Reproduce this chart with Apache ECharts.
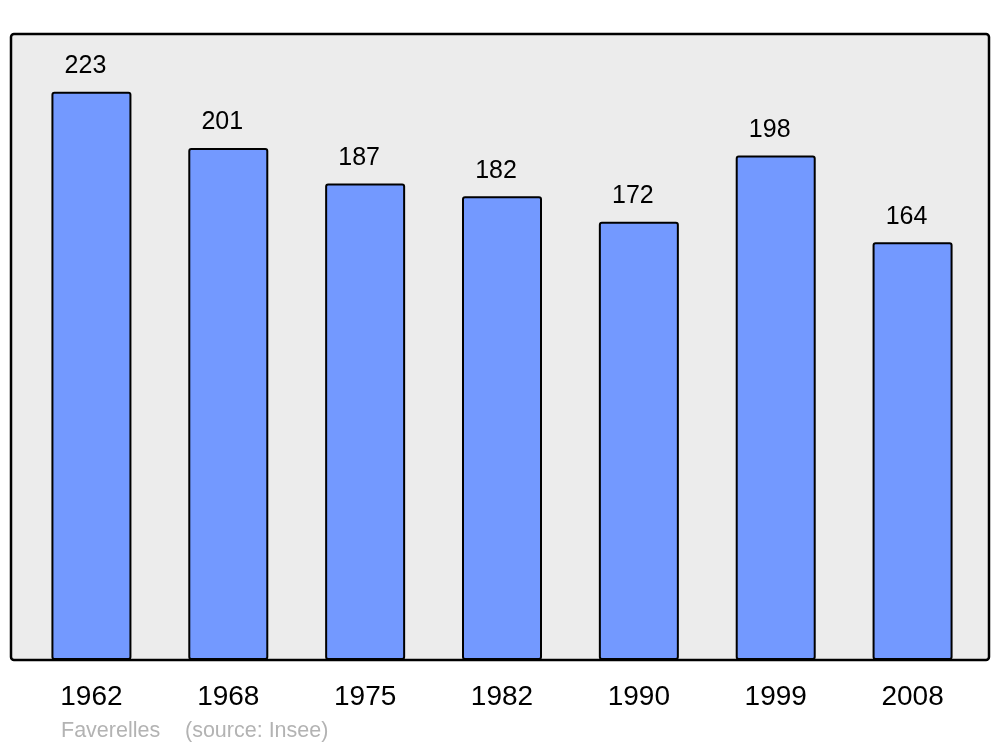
<!DOCTYPE html>
<html>
<head>
<meta charset="utf-8">
<script src="https://cdn.jsdelivr.net/npm/echarts@6/dist/echarts.min.js"></script>
<style>
html,body{margin:0;padding:0;background:#fff;}
#chart{width:1000px;height:747px;}
</style>
</head>
<body>
<div id="chart"></div>
<script>
const years = ['1962', '1968', '1975', '1982', '1990', '1999', '2008'];
const population = [223, 201, 187, 182, 172, 198, 164];
const placeName = 'Faverelles';
const sourceText = '(source: Insee)';

const chart = echarts.init(document.getElementById('chart'), null, {renderer: 'canvas'});
chart.setOption({
  animation: false,
  backgroundColor: '#ffffff',
  textStyle: {fontFamily: 'Liberation Sans, Arial, sans-serif'},
  graphic: [
    {
      type: 'rect', z: 0, silent: true,
      shape: {x: 11, y: 34, width: 978, height: 626, r: 3},
      style: {fill: '#ececec', stroke: '#000', lineWidth: 2.5}
    },
    {
      type: 'text', z: 10, left: 61, top: 720,
      style: {text: placeName, fill: '#b3b3b3', font: '21.5px "Liberation Sans", Arial, sans-serif'}
    },
    {
      type: 'text', z: 10, left: 185, top: 720,
      style: {text: sourceText, fill: '#b3b3b3', font: '21.5px "Liberation Sans", Arial, sans-serif'}
    }
  ],
  grid: {left: 23, right: 19, top: 34, bottom: 87, containLabel: false},
  xAxis: {
    type: 'category',
    data: years,
    axisLine: {show: false},
    axisTick: {show: false},
    axisLabel: {color: '#000', fontSize: 28, margin: 23, fontFamily: 'Liberation Sans'}
  },
  yAxis: {
    type: 'value', min: 0, max: 245.7,
    show: false, splitLine: {show: false}
  },
  series: [{
    type: 'bar',
    data: population,
    barWidth: 80,
    z: 5,
    itemStyle: {color: '#7399ff', borderColor: '#000', borderWidth: 2, borderRadius: 2},
    label: {
      show: true, position: 'top', distance: 13, offset: [-6, 0],
      color: '#000', fontSize: 25, fontFamily: 'Liberation Sans'
    }
  }]
});
</script>
</body>
</html>
